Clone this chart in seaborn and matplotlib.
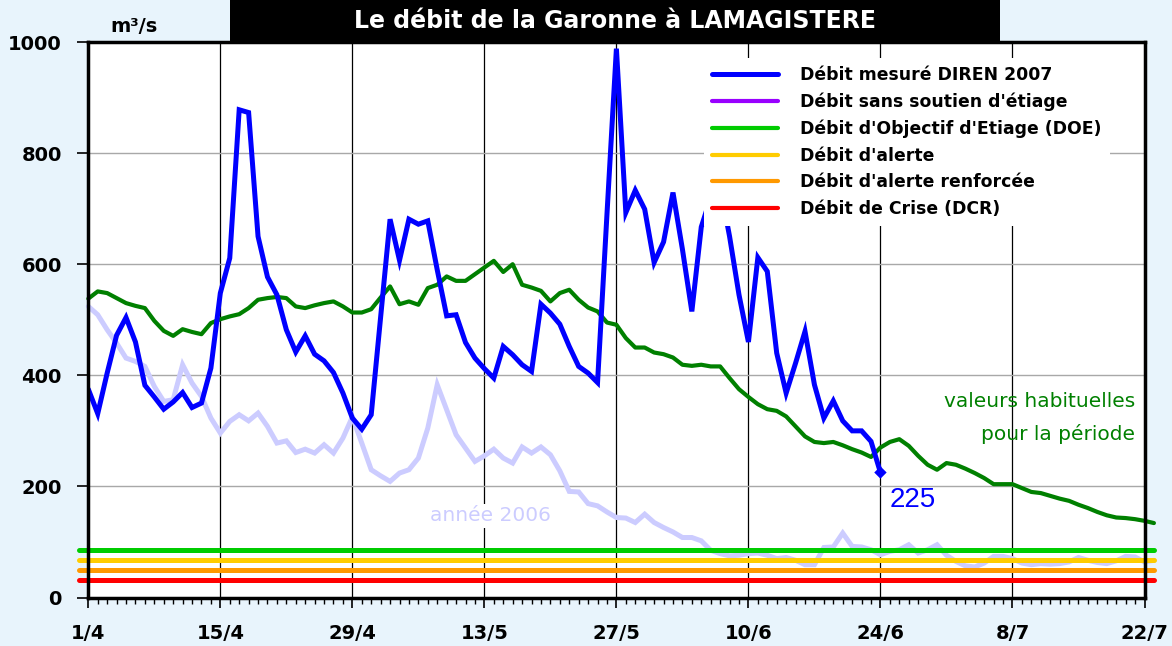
import matplotlib
matplotlib.use("Agg")
import numpy as np
import pandas as pd
import seaborn as sns
import matplotlib.pyplot as plt
from matplotlib.lines import Line2D
from matplotlib.patches import Rectangle

# ---------------- data ----------------
tick_labels = ["1/4", "15/4", "29/4", "13/5", "27/5", "10/6", "24/6", "8/7", "22/7"]

# Débit mesuré DIREN 2007 (daily from 1/4 to 24/6)
debit_2007 = [375, 331, 404, 472, 504, 460, 382, 361, 339, 352,
              369, 342, 350, 413, 548, 611, 878, 873, 650, 577,
              545, 482, 442, 471, 438, 426, 405, 368, 323, 303,
              329, 505, 681, 607, 681, 672, 678, 590, 507, 509,
              459, 431, 412, 395, 452, 437, 419, 407, 528, 512,
              492, 452, 416, 404, 387, 690, 988, 693, 733, 699,
              603, 640, 729, 627, 515, 667, 720, 740, 650, 545,
              460, 612, 587, 440, 368, 422, 479, 383, 323, 354,
              318, 300, 300, 281, 225]

# valeurs habituelles pour la période
habituel = [538, 551, 548, 539, 530, 525, 521, 498, 480, 471,
            483, 478, 474, 494, 501, 506, 510, 521, 536, 539,
            541, 539, 524, 521, 526, 530, 533, 524, 513, 513,
            519, 540, 560, 528, 533, 527, 557, 563, 578, 570,
            570, 582, 594, 606, 586, 600, 563, 558, 552, 533,
            548, 554, 536, 522, 515, 495, 491, 467, 450, 450,
            441, 438, 432, 419, 417, 419, 416, 416, 395, 375,
            361, 348, 339, 336, 326, 308, 290, 280, 278, 280,
            274, 267, 261, 253, 270, 280, 285, 273, 255, 239,
            230, 242, 239, 232, 224, 215, 204, 204, 204, 197,
            190, 188, 183, 178, 174, 167, 161, 154, 148, 144,
            143, 141, 138, 134]

# année 2006
annee_2006 = [524, 509, 482, 458, 431, 425, 416, 380, 353, 356,
              419, 386, 362, 323, 296, 317, 329, 318, 332, 308,
              278, 282, 261, 267, 260, 275, 260, 287, 325, 278,
              230, 219, 209, 224, 230, 251, 305, 383, 338, 293,
              269, 245, 255, 267, 251, 242, 271, 260, 271, 257,
              228, 191, 190, 169, 165, 154, 144, 143, 135, 150,
              135, 126, 118, 108, 108, 102, 85, 79, 75, 76,
              79, 80, 76, 70, 72, 67, 59, 59, 90, 91,
              116, 92, 91, 86, 77, 83, 86, 95, 80, 86,
              95, 76, 65, 57, 55, 62, 74, 74, 70, 62,
              59, 61, 60, 61, 64, 72, 67, 63, 61, 66,
              74, 73, 64, 67]

DOE = 85
ALERTE = 68
ALERTE_RENF = 50
DCR = 31

legend_labels = ["Débit mesuré DIREN 2007", "Débit sans soutien d'étiage",
                 "Débit d'Objectif d'Etiage (DOE)", "Débit d'alerte",
                 "Débit d'alerte renforcée", "Débit de Crise (DCR)"]

# ---------------- style ----------------
sns.set_theme(style="white")
plt.rcParams['font.family'] = ['DejaVu Sans']
plt.rcParams['text.color'] = 'black'
plt.rcParams['xtick.color'] = 'black'
plt.rcParams['ytick.color'] = 'black'
plt.rcParams['axes.labelcolor'] = 'black'

W, H = 1172, 646
BG = '#E8F4FC'
C_BLUE = '#0000FF'
C_PURPLE = '#9900FF'
C_DOE = '#00CC00'
C_ALERTE = '#FFCC00'
C_RENF = '#FF9900'
C_DCR = '#FF0000'
C_HAB = '#008000'
C_2006 = '#CCCCFF'

fig = plt.figure(figsize=(W / 100, H / 100), dpi=100, facecolor=BG)
ax = fig.add_axes([88.3 / W, 1 - 597.5 / H, (1144.5 - 88.3) / W, (597.5 - 42) / H])
ax.set_facecolor('white')

df07 = pd.DataFrame({'jour': np.arange(len(debit_2007)), 'debit': debit_2007})
dfhab = pd.DataFrame({'jour': np.arange(len(habituel)), 'debit': habituel})
df06 = pd.DataFrame({'jour': np.arange(len(annee_2006)), 'debit': annee_2006})

sns.lineplot(data=df06, x='jour', y='debit', ax=ax, color=C_2006, lw=3.6,
             clip_on=False, zorder=3, solid_joinstyle='miter')
sns.lineplot(data=dfhab, x='jour', y='debit', ax=ax, color=C_HAB, lw=3.0,
             clip_on=False, zorder=4)
sns.lineplot(data=df07, x='jour', y='debit', ax=ax, color=C_BLUE, lw=3.6,
             zorder=6, solid_joinstyle='miter')
sns.scatterplot(x=[df07['jour'].iloc[-1]], y=[df07['debit'].iloc[-1]], ax=ax,
                marker='D', s=40, color=C_BLUE, edgecolor='none', zorder=7)

x_span = [-1, len(habituel) - 1]
for val, col in [(DOE, C_DOE), (ALERTE, C_ALERTE), (ALERTE_RENF, C_RENF), (DCR, C_DCR)]:
    sns.lineplot(x=x_span, y=[val, val], ax=ax, color=col, lw=3.6,
                 clip_on=False, zorder=5)

ax.set_xlim(0, 112)
ax.set_ylim(0, 1000)
ax.set_xticks(np.arange(0, 113, 14))
ax.set_xticks(np.arange(0, 113, 1), minor=True)
ax.set_xticklabels(tick_labels, fontsize=14, fontweight='bold', color='black')
ax.set_yticks(np.arange(0, 1001, 200))
ax.set_yticklabels([str(v) for v in range(0, 1001, 200)], fontsize=14,
                   fontweight='bold', color='black')
ax.tick_params(axis='x', which='major', direction='out', length=7, width=1.2,
               pad=12, colors='black', bottom=True)
ax.tick_params(axis='x', which='minor', direction='out', length=4, width=1,
               colors='black', bottom=True)
ax.tick_params(axis='y', which='major', direction='out', length=8, width=1.2,
               pad=11, colors='black', left=True)
ax.set_xlabel('')
ax.set_ylabel('')

ax.grid(False)
ax.xaxis.grid(True, which='major', color='black', lw=0.9)
ax.yaxis.grid(True, which='major', color='#A8A8A8', lw=1.0)
ax.set_axisbelow(True)
for s in ax.spines.values():
    s.set_visible(True)
    s.set_color('black')
    s.set_linewidth(2.5)
    s.set_zorder(8)

# annotations
ax.text(85.0, 175, str(debit_2007[-1]), color=C_BLUE, fontsize=20,
        family=['Liberation Sans'], ha='left', va='center', zorder=9)
ax.text(42.6, 147, 'année 2006', color=C_2006, fontsize=14.5, ha='center',
        va='center', zorder=4,
        bbox=dict(facecolor='white', edgecolor='none', pad=2))
ax.text(111.0, 352, 'valeurs habituelles', color=C_HAB, fontsize=14.5,
        ha='right', va='center', zorder=9)
ax.text(111.0, 294, 'pour la période', color=C_HAB, fontsize=14.5,
        ha='right', va='center', zorder=9)

# legend
handles = [Line2D([], [], color=C_BLUE, lw=3.6),
           Line2D([], [], color=C_PURPLE, lw=3.0),
           Line2D([], [], color=C_DOE, lw=3.0),
           Line2D([], [], color=C_ALERTE, lw=3.0),
           Line2D([], [], color=C_RENF, lw=3.0),
           Line2D([], [], color=C_DCR, lw=3.0)]
leg = ax.legend(handles, legend_labels, loc='upper left',
                bbox_to_anchor=(704 / W, 1 - 58 / H), bbox_transform=fig.transFigure,
                frameon=True, facecolor='white', edgecolor='none', framealpha=1,
                fancybox=False, fontsize=12.4, handlelength=3.85, handletextpad=1.3,
                labelspacing=0.5, borderpad=0.45, borderaxespad=0)
for t in leg.get_texts():
    t.set_fontweight('bold')
    t.set_color('black')
leg.set_zorder(10)

# title box
fig.add_artist(Rectangle((230 / W, 1 - 43 / H), 770 / W, 43 / H,
                         transform=fig.transFigure, facecolor='black',
                         edgecolor='none', zorder=20))
fig.text(615 / W, 1 - 21 / H, 'Le débit de la Garonne à LAMAGISTERE',
         color='white', fontsize=17, fontweight='bold', ha='center', va='center',
         zorder=21)
fig.text(110 / W, 1 - 26 / H, 'm³/s', fontsize=14, fontweight='bold',
         ha='left', va='center', color='black')

fig.savefig('out.png', dpi=100, facecolor=BG)
